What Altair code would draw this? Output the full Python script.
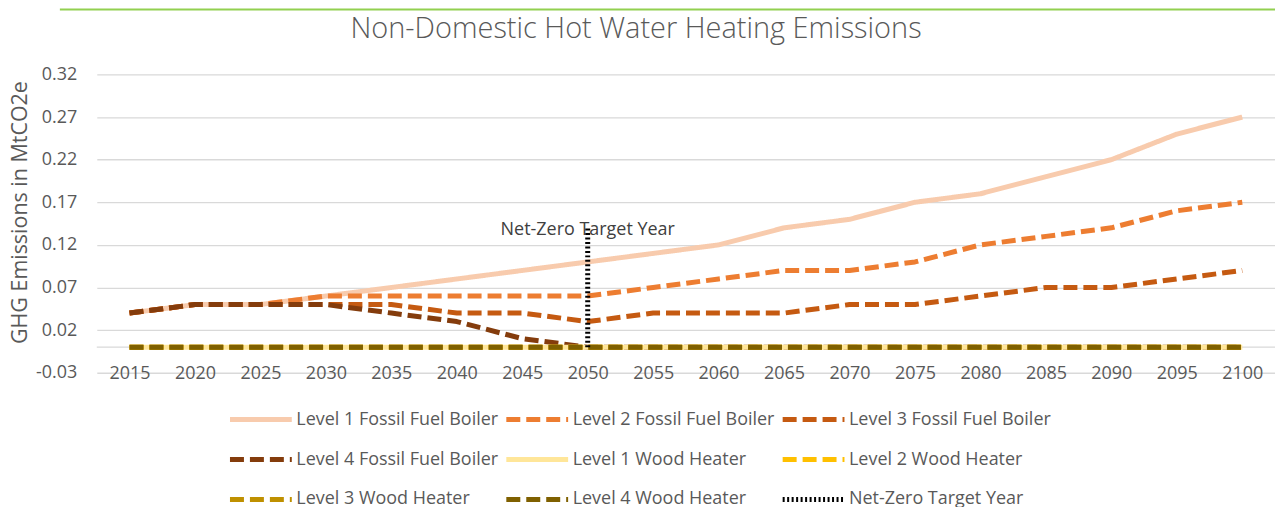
import altair as alt
import pandas as pd

years = [2015, 2020, 2025, 2030, 2035, 2040, 2045, 2050, 2055, 2060,
         2065, 2070, 2075, 2080, 2085, 2090, 2095, 2100]

series_names = [
    "Level 1 Fossil Fuel Boiler", "Level 2 Fossil Fuel Boiler", "Level 3 Fossil Fuel Boiler",
    "Level 4 Fossil Fuel Boiler", "Level 1 Wood Heater", "Level 2 Wood Heater",
    "Level 3 Wood Heater", "Level 4 Wood Heater", "Net-Zero Target Year",
]

l1_ffb = [0.04, 0.05, 0.05, 0.06, 0.07, 0.08, 0.09, 0.10, 0.11, 0.12,
          0.14, 0.15, 0.17, 0.18, 0.20, 0.22, 0.25, 0.27]
l2_ffb = [0.04, 0.05, 0.05, 0.06, 0.06, 0.06, 0.06, 0.06, 0.07, 0.08,
          0.09, 0.09, 0.10, 0.12, 0.13, 0.14, 0.16, 0.17]
l3_ffb = [0.04, 0.05, 0.05, 0.05, 0.05, 0.04, 0.04, 0.03, 0.04, 0.04,
          0.04, 0.05, 0.05, 0.06, 0.07, 0.07, 0.08, 0.09]
l4_ffb = [0.04, 0.05, 0.05, 0.05, 0.04, 0.03, 0.01, 0.00, 0.00, 0.00,
          0.00, 0.00, 0.00, 0.00, 0.00, 0.00, 0.00, 0.00]
l1_wood = [0.0] * 18
l2_wood = [0.0] * 18
l3_wood = [0.0] * 18
l4_wood = [0.0] * 18

netzero_years = [2050, 2050]
netzero_values = [0.0, 0.14]
netzero_label = "Net-Zero Target Year"

colors = ["#F8CBAD", "#ED7D31", "#C55A11", "#843C0C", "#FFE699",
          "#FFC000", "#BF9000", "#7F6000", "#000000"]
dashes = [[1, 0], [14, 6], [14, 6], [14, 6], [1, 0], [14, 6], [14, 6], [14, 6], [2, 2.5]]
widths = [5, 5, 5, 5, 5, 5, 5, 5, 2.2]

y_ticks = [-0.03, 0.02, 0.07, 0.12, 0.17, 0.22, 0.27, 0.32]

rows = []
all_series = [l1_ffb, l2_ffb, l3_ffb, l4_ffb, l1_wood, l2_wood, l3_wood, l4_wood]
for k, (name, vals) in enumerate(zip(series_names[:8], all_series)):
    for i, (yr, v) in enumerate(zip(years, vals)):
        rows.append({"series": name, "year": yr, "value": v, "order": k * 100 + i})
for i, (yr, v) in enumerate(zip(netzero_years, netzero_values)):
    rows.append({"series": series_names[8], "year": yr, "value": v, "order": 800 + i})
df = pd.DataFrame(rows)

FONT = "Open Sans"
GREY = "#595959"

x_scale = alt.Scale(domain=[2012.5, 2102.5], nice=False, zero=False)
y_scale = alt.Scale(domain=[-0.03, 0.32], nice=False, zero=False)

lines = alt.Chart(df).mark_line(strokeCap="butt", strokeJoin="round").encode(
    x=alt.X("year:Q", scale=x_scale,
            axis=alt.Axis(values=years, format="d", grid=False, domain=False, ticks=False,
                          tickSize=0, labelPadding=1, labelBaseline="middle",
                          labelFont=FONT, labelFontSize=18, labelColor=GREY, title=None,
                          labelFlush=False, labelOverlap=False)),
    y=alt.Y("value:Q", scale=y_scale,
            axis=alt.Axis(values=y_ticks, grid=True, gridColor="#D9D9D9",
                          labelExpr="datum.value < 0 ? '-' + format(-datum.value, '.2f') : format(datum.value, '.2f')",
                          gridWidth=1.3, domain=False, ticks=False, tickSize=0,
                          labelPadding=20, labelFont=FONT, labelFontSize=18,
                          labelColor=GREY, title="GHG Emissions in MtCO2e",
                          titleFont=FONT, titleFontSize=21.5, titleFontWeight="normal",
                          titleColor=GREY, titleX=-76, titleY=138, titleAngle=270,
                          titleAlign="center", titleBaseline="middle")),
    color=alt.Color("series:N", scale=alt.Scale(domain=series_names, range=colors),
                    sort=series_names,
                    legend=alt.Legend(title=None, orient="none", legendX=131, legendY=333,
                                      direction="horizontal",
                                      columns=3, gridAlign="all", columnPadding=-3,
                                      rowPadding=17, symbolType="M-1,0H4.9",
                                      symbolSize=441, labelFont=FONT, labelFontSize=18,
                                      labelColor=GREY, labelOffset=43, padding=0,
                                      labelLimit=400)),
    strokeDash=alt.StrokeDash("series:N", scale=alt.Scale(domain=series_names, range=dashes),
                              sort=series_names),
    strokeWidth=alt.StrokeWidth("series:N", scale=alt.Scale(domain=series_names, range=widths),
                                sort=series_names),
    detail="series:N",
    order="order:Q",
)

zero_line = alt.Chart(pd.DataFrame({"v": [0.0]})).mark_rule(color="#D9D9D9", strokeWidth=1.3).encode(
    y=alt.Y("v:Q", scale=y_scale)
)

label_df = pd.DataFrame({"year": [netzero_years[1]], "value": [netzero_values[1]], "text": [netzero_label]})
label = alt.Chart(label_df).mark_text(font=FONT, fontSize=18, color="#404040",
                                      baseline="middle", align="center", dy=2).encode(
    x=alt.X("year:Q", scale=x_scale),
    y=alt.Y("value:Q", scale=y_scale),
    text="text:N",
)

green = alt.Chart(pd.DataFrame({"a": [0]})).mark_rule(color="#92D050", strokeWidth=2).encode(
    x=alt.value(-37), x2=alt.value(1181), y=alt.value(-65)
)

chart = alt.layer(zero_line, lines, label, green).properties(
    width=1181, height=299,
    padding={"left": 89, "top": 66, "right": 0, "bottom": 136},
    autosize=alt.AutoSizeParams(type="none"),
    title=alt.TitleParams("Non-Domestic Hot Water Heating Emissions", font=FONT,
                          fontSize=29, fontWeight=300, color=GREY, anchor="middle",
                          baseline="alphabetic", dx=-50, offset=-58, frame="group"),
    background="white",
).configure_view(stroke=None)

chart.save("out.html", embed_options={"renderer": "svg", "actions": False})
